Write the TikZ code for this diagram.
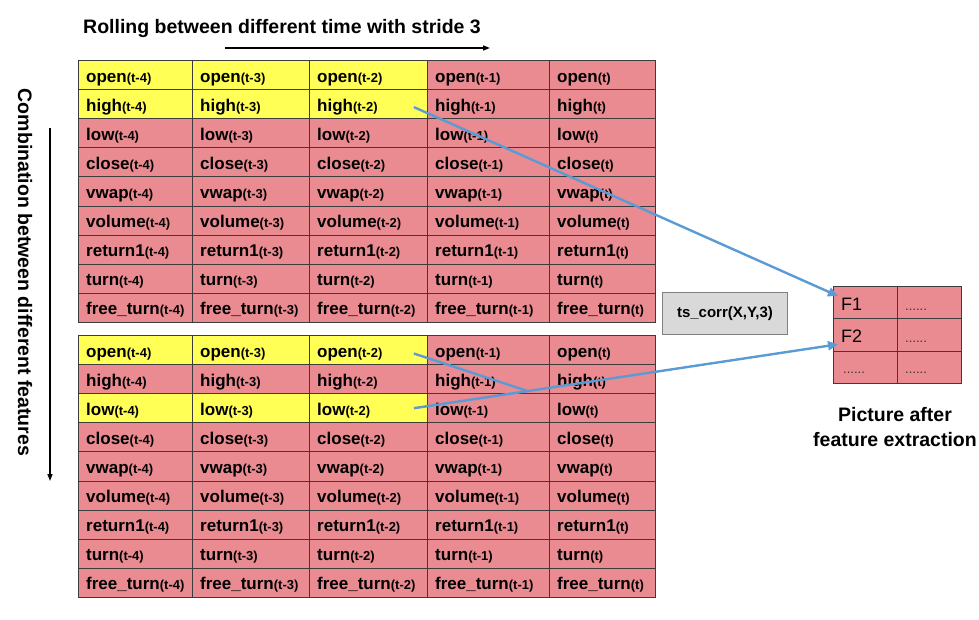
\documentclass[tikz,border=0pt]{standalone}
\usepackage{fontspec}
\setmainfont{Liberation Sans}
\usetikzlibrary{arrows.meta,calc}
\definecolor{cellpink}{RGB}{233,139,144}
\definecolor{cellyellow}{RGB}{255,255,85}
\definecolor{gridline}{RGB}{60,60,60}
\definecolor{linkblue}{RGB}{91,155,213}
\definecolor{boxgrey}{RGB}{217,217,217}
\definecolor{boxedge}{RGB}{128,128,128}
\newcommand{\subtx}[1]{{\fontsize{13}{13}\selectfont #1}}
\begin{document}
\begin{tikzpicture}[x=1pt,y=-1pt,
  cellbox/.style={draw=gridline, line width=0.9pt, anchor=north west, inner sep=0pt, minimum height=29.1pt},
  celltext/.style={anchor=base west, inner sep=0pt, font=\fontsize{17}{17}\selectfont\bfseries},
  featbox/.style={draw=gridline, line width=0.9pt, fill=cellpink, anchor=north west, inner sep=0pt, minimum width=64pt, minimum height=32.3pt},
  feattext/.style={anchor=base west, inner sep=0pt, font=\fontsize{18}{18}\selectfont},
  dottext/.style={anchor=base west, inner sep=0pt, font=\fontsize{13}{13}\selectfont, text=black!80},
  heading/.style={inner sep=0pt, font=\fontsize{19.5}{25}\selectfont\bfseries},
  link/.style={draw=linkblue, line width=2.4pt},
  linkarrow/.style={link, -{Triangle[length=10pt,width=9pt]}},
  axisarrow/.style={draw=black, line width=1.4pt, -{Triangle[length=7pt,width=5pt]}}
]
\useasboundingbox (0,0) rectangle (979,619);

% ---- two feature tables
\foreach \tb/\ty in {1/60,2/335} {
  \foreach \f [count=\r] in {open,high,low,close,vwap,volume,return1,turn,free\_turn} {
    \foreach \cx/\cw/\s [count=\c] in {78/114/t-4,192/117/t-3,309/118/t-2,427/122/t-1,549/106/t} {
      \pgfmathsetmacro\yy{\ty+(\r-1)*29.1}
      \pgfmathtruncatemacro\isy{and(\c<4, or(and(\tb==1,\r<3), and(\tb==2, or(\r==1,\r==3))))}
      \ifnum\isy=1 \def\cf{cellyellow}\else\def\cf{cellpink}\fi
      \node[cellbox, fill=\cf, minimum width=\cw pt] (t\tb r\r c\c) at (\cx,\yy) {};
      \node[celltext] (t\tb r\r c\c l) at (\cx+8,\yy+22) {\f\subtx{(\s)}};
    }
  }
}

% ---- operator box
\node[draw=boxedge, line width=0.9pt, fill=boxgrey, anchor=north west, minimum width=125pt, minimum height=42pt, inner sep=0pt,
      font=\fontsize{15}{15}\selectfont\bfseries] (op) at (662,292) {ts\_corr(X,Y,3)};

% ---- picture after feature extraction
\foreach \r in {1,2,3} {
  \foreach \c/\fx in {1/833,2/897} {
    \node[featbox] (f\r\c) at (\fx,{286+(\r-1)*32.3}) {};
  }
}
\node[feattext] (f1txt) at ($(f11.north west)+(8,24)$) {F1};
\node[feattext] (f2txt) at ($(f21.north west)+(8,24)$) {F2};
\node[dottext] (d12) at ($(f12.north west)+(8,24)$) {......};
\node[dottext] (d22) at ($(f22.north west)+(8,24)$) {......};
\node[dottext] (d31) at ($(f31.north west)+(10,23)$) {......};
\node[dottext] (d32) at ($(f32.north west)+(8,23)$) {......};
\node[heading, align=center, anchor=north] (cap) at (895,407) {Picture after\\feature extraction};

% ---- axis labels
\node[heading, anchor=base] (title) at (282,33) {Rolling between different time with stride 3};
\coordinate (hs) at (225,48);
\coordinate (he) at (490,48);
\draw[axisarrow] (hs) -- (he);
\node[heading, rotate=-90] (side) at (25,272.5) {Combination between different features};
\coordinate (vs) at (50,128);
\coordinate (ve) at (50,481);
\draw[axisarrow] (vs) -- (ve);

% ---- links
\coordinate (a1) at ($(t1r2c3.east)+(-14,3)$);
\coordinate (b1) at ($(f11.north west)+(5,10)$);
\coordinate (a2) at ($(t2r1c3.east)+(-14,3.5)$);
\coordinate (a3) at ($(t2r3c3.east)+(-14,0)$);
\coordinate (b3) at ($(f21.north west)+(5,26)$);
\coordinate (x23) at ($(a3)!0.268!(b3)$);
\draw[linkarrow] (a1) -- (b1);
\draw[link] (a2) -- (x23);
\draw[linkarrow] (a3) -- (b3);
\end{tikzpicture}
\end{document}
